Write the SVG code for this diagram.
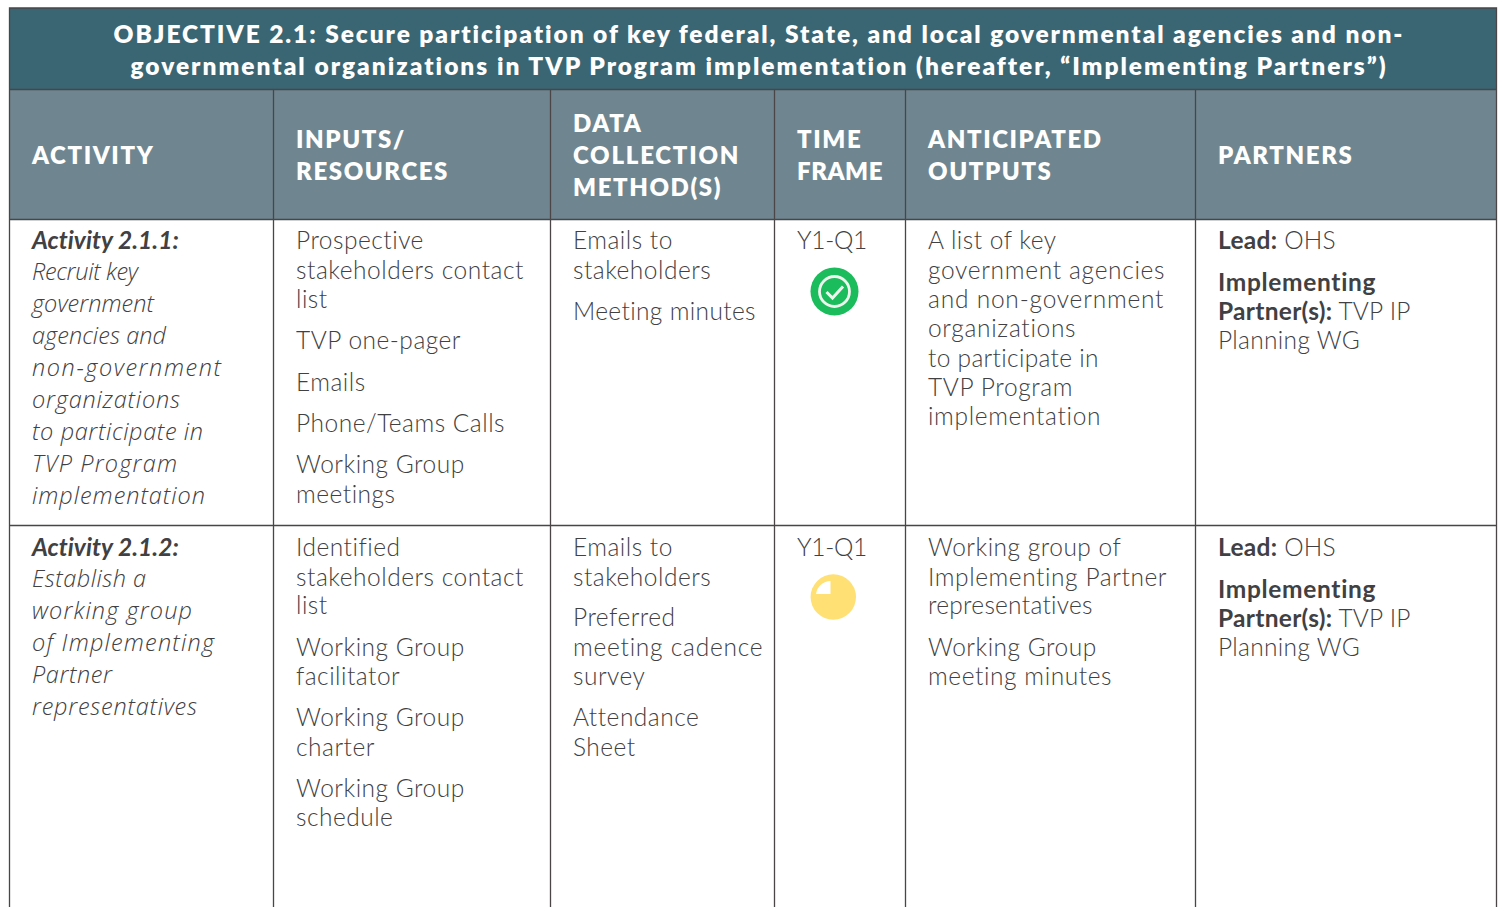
<svg xmlns="http://www.w3.org/2000/svg" width="1502" height="907" viewBox="0 0 1502 907">
<style>
text{font-family:Lato,"Noto Sans","Liberation Sans",sans-serif}
.t{font-size:24.5px;font-weight:800;fill:#fff;letter-spacing:1.92px;text-anchor:middle}
.h{font-size:24px;font-weight:800;fill:#fff;letter-spacing:1.6px}
.b{font-size:24.5px;font-weight:300;fill:#414042;letter-spacing:.5px}
.a{font-family:"Open Sans",Lato,sans-serif;font-style:italic;font-size:23.500px;letter-spacing:0}
.s{font-weight:700;letter-spacing:.3px}
.p{letter-spacing:.2px}
.ab{font-family:Lato,sans-serif;font-size:24.5px;font-weight:700;letter-spacing:.05px}
.y{letter-spacing:-.3px}
.l{stroke:#4a4647;stroke-width:1.3;fill:none}
</style>
<rect width="1502" height="907" fill="#fff"/>
<g id="bands">
<rect x="9.5" y="8" width="1487" height="81.5" fill="#3a6674"/>
<rect x="9.5" y="89.5" width="1487" height="130" fill="#6f8690"/>
</g>
<g id="connectors" class="l">
<path class="l" d="M9.5 907V8H1496.5V907M9.5 89.5H1496.5M9.5 219.5H1496.5M9.5 525.5H1496.5M273.5 89.5V907M550.5 89.5V907M774.5 89.5V907M905.5 89.5V907M1195.5 89.5V907"/>
</g>
<g id="title">
<text class="t" x="759" y="42.500">OBJECTIVE 2.1: Secure participation of key federal, State, and local governmental agencies and non-</text>
<text class="t" x="759" y="74.500" style="letter-spacing:2px">governmental organizations in TVP Program implementation (hereafter, “Implementing Partners”)</text>
</g>
<g id="header">
<text class="h" x="32" y="164">ACTIVITY</text>
<text class="h" x="296" y="148">INPUTS/</text><text class="h" x="296" y="180">RESOURCES</text>
<text class="h" x="573" y="132">DATA</text><text class="h" x="573" y="164" textLength="167">COLLECTION</text><text class="h" x="573" y="196">METHOD(S)</text>
<text class="h" x="797" y="148">TIME</text><text class="h" x="797" y="180" textLength="87">FRAME</text>
<text class="h" x="928" y="148">ANTICIPATED</text><text class="h" x="928" y="180">OUTPUTS</text>
<text class="h" x="1218" y="164">PARTNERS</text>
</g>
<g id="activity-1">
<text class="b ab" x="32" y="248.500" font-style="italic">Activity 2.1.1:</text>
<text class="b a" x="32" y="280" textLength="106">Recruit key</text>
<text class="b a" x="32" y="312" textLength="122">government</text>
<text class="b a" x="32" y="344" textLength="134">agencies and</text>
<text class="b a" x="32" y="376" textLength="189">non-government</text>
<text class="b a" x="32" y="408" textLength="148">organizations</text>
<text class="b a" x="32" y="440" textLength="171">to participate in</text>
<text class="b a" x="32" y="472" textLength="145">TVP Program</text>
<text class="b a" x="32" y="504" textLength="173">implementation</text>
</g>
<g id="inputs-1">
<text class="b" x="296" y="248.500">Prospective</text>
<text class="b" x="296" y="278.500" textLength="228">stakeholders contact</text>
<text class="b" x="296" y="307.500">list</text>
<text class="b" x="296" y="348.500">TVP one-pager</text>
<text class="b" x="296" y="390.500">Emails</text>
<text class="b" x="296" y="431.500" textLength="209">Phone/Teams Calls</text>
<text class="b" x="296" y="472.500">Working Group</text>
<text class="b" x="296" y="502.500">meetings</text>
</g>
<g id="data-1">
<text class="b" x="573" y="248.500">Emails to</text>
<text class="b" x="573" y="278.500">stakeholders</text>
<text class="b" x="573" y="319.500" textLength="183">Meeting minutes</text>
</g>
<g id="time-1">
<text class="b y" x="797" y="248.500">Y1-Q1</text>
<circle cx="834.500" cy="291.500" r="24" fill="#1bbc5b"/>
<circle cx="834.500" cy="291.500" r="15" fill="none" stroke="#eef5ef" stroke-width="2.800"/>
<path d="M826.500 292L832.500 298L843 286.500" fill="none" stroke="#eef5ef" stroke-width="3"/>
</g>
<g id="outputs-1">
<text class="b" x="928" y="248.500">A list of key</text>
<text class="b" x="928" y="278.500" textLength="237">government agencies</text>
<text class="b" x="928" y="307.500" textLength="236">and non-government</text>
<text class="b" x="928" y="336.500" textLength="148">organizations</text>
<text class="b" x="928" y="366.500" textLength="171">to participate in</text>
<text class="b" x="928" y="395.500" textLength="145">TVP Program</text>
<text class="b" x="928" y="424.500" textLength="173">implementation</text>
</g>
<g id="partners-1">
<text class="b p" x="1218" y="248.500"><tspan class="s">Lead:</tspan> OHS</text>
<text class="b" x="1218" y="290.500" textLength="158" style="font-weight:700">Implementing</text>
<text class="b p" x="1218" y="319.500"><tspan class="s">Partner(s):</tspan> TVP IP</text>
<text class="b p" x="1218" y="348.500" textLength="142">Planning WG</text>
</g>
<g id="activity-2">
<text class="b ab" x="32" y="555.500" font-style="italic">Activity 2.1.2:</text>
<text class="b a" x="32" y="587" textLength="114">Establish a</text>
<text class="b a" x="32" y="619" textLength="160">working group</text>
<text class="b a" x="32" y="651" textLength="182">of Implementing</text>
<text class="b a" x="32" y="683" textLength="80">Partner</text>
<text class="b a" x="32" y="715" textLength="165">representatives</text>
</g>
<g id="inputs-2">
<text class="b" x="296" y="555.500">Identified</text>
<text class="b" x="296" y="585.500" textLength="228">stakeholders contact</text>
<text class="b" x="296" y="613.500">list</text>
<text class="b" x="296" y="655.500">Working Group</text>
<text class="b" x="296" y="684.500">facilitator</text>
<text class="b" x="296" y="725.500">Working Group</text>
<text class="b" x="296" y="755.500">charter</text>
<text class="b" x="296" y="796.500">Working Group</text>
<text class="b" x="296" y="825.500">schedule</text>
</g>
<g id="data-2">
<text class="b" x="573" y="555.500">Emails to</text>
<text class="b" x="573" y="585.500">stakeholders</text>
<text class="b" x="573" y="625.500">Preferred</text>
<text class="b" x="573" y="655.500" textLength="190">meeting cadence</text>
<text class="b" x="573" y="684.500">survey</text>
<text class="b" x="573" y="725.500">Attendance</text>
<text class="b" x="573" y="755.500">Sheet</text>
</g>
<g id="time-2">
<text class="b y" x="797" y="555.500">Y1-Q1</text>
<circle cx="833.300" cy="597" r="22.700" fill="#ffe074"/>
<path d="M830.500 581V594H816A15 15 0 0 1 830.500 581Z" fill="#fff"/>
</g>
<g id="outputs-2">
<text class="b" x="928" y="555.500">Working group of</text>
<text class="b" x="928" y="585.500" textLength="239">Implementing Partner</text>
<text class="b" x="928" y="613.500" textLength="165">representatives</text>
<text class="b" x="928" y="655.500">Working Group</text>
<text class="b" x="928" y="684.500" textLength="184">meeting minutes</text>
</g>
<g id="partners-2">
<text class="b p" x="1218" y="555.500"><tspan class="s">Lead:</tspan> OHS</text>
<text class="b" x="1218" y="597.500" textLength="158" style="font-weight:700">Implementing</text>
<text class="b p" x="1218" y="626.500"><tspan class="s">Partner(s):</tspan> TVP IP</text>
<text class="b p" x="1218" y="655.500" textLength="142">Planning WG</text>
</g>
</svg>
